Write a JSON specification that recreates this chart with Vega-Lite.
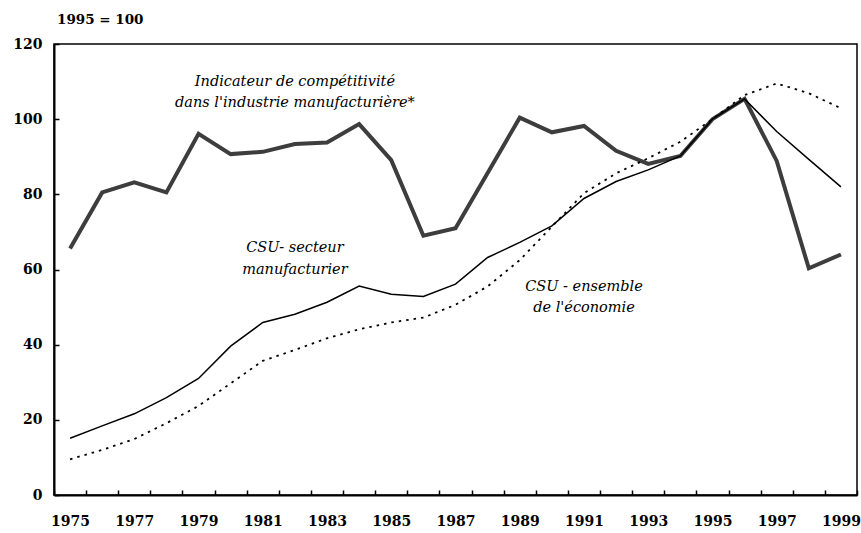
{
  "$schema": "https://vega.github.io/schema/vega-lite/v6.json",
  "width": 803,
  "height": 451,
  "autosize": {"type": "none"},
  "padding": {"left": 54, "top": 44, "right": 4, "bottom": 38},
  "background": "white",
  "config": {
    "view": {"stroke": "black", "strokeWidth": 1.5},
    "font": "DejaVu Serif"
  },
  "title": {
    "text": "1995 = 100",
    "anchor": "start",
    "frame": "group",
    "font": "DejaVu Serif",
    "fontSize": 13.5,
    "fontWeight": "bold",
    "color": "black",
    "offset": 11,
    "dx": 3
  },
  "datasets": {
    "series": [
      {"year": 1975, "series": "comp", "value": 65.6},
      {"year": 1976, "series": "comp", "value": 80.5},
      {"year": 1977, "series": "comp", "value": 83.2},
      {"year": 1978, "series": "comp", "value": 80.5},
      {"year": 1979, "series": "comp", "value": 96.1},
      {"year": 1980, "series": "comp", "value": 90.7},
      {"year": 1981, "series": "comp", "value": 91.3},
      {"year": 1982, "series": "comp", "value": 93.4},
      {"year": 1983, "series": "comp", "value": 93.8},
      {"year": 1984, "series": "comp", "value": 98.7},
      {"year": 1985, "series": "comp", "value": 89.1},
      {"year": 1986, "series": "comp", "value": 69.0},
      {"year": 1987, "series": "comp", "value": 71.0},
      {"year": 1988, "series": "comp", "value": 85.7},
      {"year": 1989, "series": "comp", "value": 100.4},
      {"year": 1990, "series": "comp", "value": 96.5},
      {"year": 1991, "series": "comp", "value": 98.2},
      {"year": 1992, "series": "comp", "value": 91.6},
      {"year": 1993, "series": "comp", "value": 88.1},
      {"year": 1994, "series": "comp", "value": 90.2},
      {"year": 1995, "series": "comp", "value": 100.0},
      {"year": 1996, "series": "comp", "value": 105.4},
      {"year": 1997, "series": "comp", "value": 88.9},
      {"year": 1998, "series": "comp", "value": 60.3},
      {"year": 1999, "series": "comp", "value": 64.0},
      {"year": 1975, "series": "manuf", "value": 15.1},
      {"year": 1976, "series": "manuf", "value": 18.4},
      {"year": 1977, "series": "manuf", "value": 21.6},
      {"year": 1978, "series": "manuf", "value": 25.9},
      {"year": 1979, "series": "manuf", "value": 31.0},
      {"year": 1980, "series": "manuf", "value": 39.6},
      {"year": 1981, "series": "manuf", "value": 45.9},
      {"year": 1982, "series": "manuf", "value": 48.1},
      {"year": 1983, "series": "manuf", "value": 51.3},
      {"year": 1984, "series": "manuf", "value": 55.6},
      {"year": 1985, "series": "manuf", "value": 53.4},
      {"year": 1986, "series": "manuf", "value": 52.8},
      {"year": 1987, "series": "manuf", "value": 56.1},
      {"year": 1988, "series": "manuf", "value": 63.2},
      {"year": 1989, "series": "manuf", "value": 67.2},
      {"year": 1990, "series": "manuf", "value": 71.6},
      {"year": 1991, "series": "manuf", "value": 78.9},
      {"year": 1992, "series": "manuf", "value": 83.4},
      {"year": 1993, "series": "manuf", "value": 86.5},
      {"year": 1994, "series": "manuf", "value": 90.2},
      {"year": 1995, "series": "manuf", "value": 100.0},
      {"year": 1996, "series": "manuf", "value": 105.4},
      {"year": 1997, "series": "manuf", "value": 96.7},
      {"year": 1998, "series": "manuf", "value": 89.3},
      {"year": 1999, "series": "manuf", "value": 82.0},
      {"year": 1975, "series": "eco", "value": 9.5},
      {"year": 1976, "series": "eco", "value": 12.0},
      {"year": 1977, "series": "eco", "value": 14.9},
      {"year": 1978, "series": "eco", "value": 19.1},
      {"year": 1979, "series": "eco", "value": 23.7},
      {"year": 1980, "series": "eco", "value": 29.7},
      {"year": 1981, "series": "eco", "value": 35.7},
      {"year": 1982, "series": "eco", "value": 38.6},
      {"year": 1983, "series": "eco", "value": 41.7},
      {"year": 1984, "series": "eco", "value": 44.1},
      {"year": 1985, "series": "eco", "value": 45.9},
      {"year": 1986, "series": "eco", "value": 47.2},
      {"year": 1987, "series": "eco", "value": 50.6},
      {"year": 1988, "series": "eco", "value": 55.5},
      {"year": 1989, "series": "eco", "value": 62.5},
      {"year": 1990, "series": "eco", "value": 71.4},
      {"year": 1991, "series": "eco", "value": 80.3},
      {"year": 1992, "series": "eco", "value": 85.6},
      {"year": 1993, "series": "eco", "value": 89.6},
      {"year": 1994, "series": "eco", "value": 94.0},
      {"year": 1995, "series": "eco", "value": 100.0},
      {"year": 1996, "series": "eco", "value": 106.4},
      {"year": 1997, "series": "eco", "value": 109.5},
      {"year": 1998, "series": "eco", "value": 106.9},
      {"year": 1999, "series": "eco", "value": 102.9}
    ],
    "notes": [
      {"text": "Indicateur de compétitivité", "year": 1982, "value": 108.8},
      {"text": "dans l'industrie manufacturière*", "year": 1982, "value": 103.2},
      {"text": "CSU- secteur", "year": 1982, "value": 64.6},
      {"text": "manufacturier", "year": 1982, "value": 58.9},
      {"text": "CSU - ensemble", "year": 1991, "value": 54.4},
      {"text": "de l'économie", "year": 1991, "value": 48.8}
    ]
  },
  "encoding": {
    "x": {
      "field": "year",
      "type": "ordinal",
      "scale": {"type": "band", "paddingInner": 0, "paddingOuter": 0},
      "axis": {
        "title": null,
        "grid": false,
        "domainColor": "black",
        "domainWidth": 2,
        "tickColor": "black",
        "tickWidth": 1.5,
        "tickSize": -5,
        "tickBand": "extent",
        "labelExpr": "datum.value % 2 == 1 ? datum.label : ''",
        "labelAngle": 0,
        "labelOverlap": false,
        "labelFont": "DejaVu Serif",
        "labelFontSize": 14,
        "labelFontWeight": "bold",
        "labelColor": "black",
        "labelPadding": 24
      }
    },
    "y": {
      "field": "value",
      "type": "quantitative",
      "scale": {"domain": [0, 120], "nice": false},
      "axis": {
        "title": null,
        "grid": false,
        "values": [0, 20, 40, 60, 80, 100, 120],
        "domainColor": "black",
        "domainWidth": 2,
        "tickColor": "black",
        "tickWidth": 1.5,
        "tickSize": -5,
        "labelFont": "DejaVu Serif",
        "labelFontSize": 14,
        "labelFontWeight": "bold",
        "labelColor": "black",
        "labelPadding": 17
      }
    }
  },
  "layer": [
    {
      "data": {"name": "series"},
      "transform": [{"filter": "datum.series == 'comp'"}],
      "mark": {"type": "line", "color": "#3d3d3d", "strokeWidth": 4}
    },
    {
      "data": {"name": "series"},
      "transform": [{"filter": "datum.series == 'manuf'"}],
      "mark": {"type": "line", "color": "black", "strokeWidth": 1.5}
    },
    {
      "data": {"name": "series"},
      "transform": [{"filter": "datum.series == 'eco'"}],
      "mark": {"type": "line", "color": "black", "strokeWidth": 1.8, "strokeDash": [2.5, 5]}
    },
    {
      "data": {"name": "notes"},
      "mark": {
        "type": "text",
        "font": "DejaVu Serif",
        "fontStyle": "italic",
        "fontSize": 14.5,
        "align": "center",
        "baseline": "alphabetic",
        "color": "black"
      },
      "encoding": {"text": {"field": "text"}}
    }
  ]
}
